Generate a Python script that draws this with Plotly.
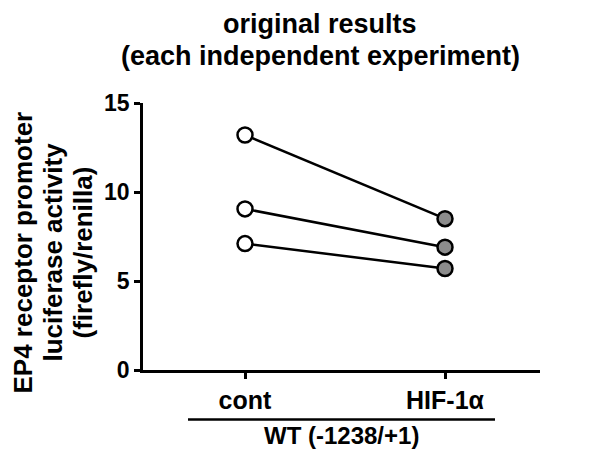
import plotly.graph_objects as go

categories = ["cont", "HIF-1α"]
exp1 = [13.2, 8.5]
exp2 = [9.05, 6.9]
exp3 = [7.1, 5.7]
series = [exp1, exp2, exp3]
y_ticks = [0, 5, 10, 15]
group_label = "WT (-1238/+1)"
title_lines = ["original results", "(each independent experiment)"]
y_title_lines = ["EP4 receptor promoter", "luciferase activity", "(firefly/renilla)"]

FONT = "Liberation Sans, Arial, sans-serif"
xpos = list(range(len(categories)))

fig = go.Figure()
for s in series:
    fig.add_trace(go.Scatter(
        x=xpos, y=s, mode="lines+markers",
        line=dict(color="black", width=2.5),
        marker=dict(size=15, color=["white", "#8c8c8c"],
                    line=dict(color="black", width=2.5)),
        showlegend=False, cliponaxis=False,
    ))

# page body has an 8px margin, so the figure is 8px smaller than the window
fig.update_layout(
    width=593, height=443,
    margin=dict(l=135, r=61, t=95, b=81),
    paper_bgcolor="white", plot_bgcolor="white",
    font=dict(family=FONT, color="black", size=22, weight="bold"),
    xaxis=dict(range=[-0.51, 1.475], tickvals=xpos, ticktext=categories,
               showline=True, linewidth=2.5, linecolor="black",
               ticks="outside", ticklen=6, tickwidth=2.5, tickcolor="black",
               showgrid=False, zeroline=False,
               tickfont=dict(size=25, family=FONT, weight="bold")),
    yaxis=dict(range=[0, 15], tickvals=y_ticks,
               showline=True, linewidth=2.5, linecolor="black",
               ticks="outside", ticklen=6, tickwidth=2.5, tickcolor="black",
               showgrid=False, zeroline=False,
               tickfont=dict(size=23, family=FONT, weight="bold")),
)

# y-axis title (rotated, three lines)
for i, line in enumerate(y_title_lines):
    fig.add_annotation(text=line, xref="paper", yref="paper",
                       x=0, y=0.44, xshift=-120 + 30 * i,
                       xanchor="center", yanchor="middle",
                       textangle=-90, showarrow=False,
                       font=dict(size=26, family=FONT, weight="bold"))

# chart title
for i, line in enumerate(title_lines):
    fig.add_annotation(text=line, xref="paper", yref="paper",
                       x=0.446, y=1.295 - 0.12 * i,
                       xanchor="center", yanchor="middle",
                       showarrow=False,
                       font=dict(size=27, family=FONT, weight="bold"))

# group bracket and label
fig.add_shape(type="line", xref="x", yref="paper",
              x0=-0.285, x1=1.25, y0=-0.185, y1=-0.185,
              line=dict(color="black", width=2.5))
fig.add_annotation(text=group_label, xref="paper", yref="paper",
                   x=0.499, y=-0.247, xanchor="center", yanchor="middle",
                   showarrow=False, borderpad=0,
                   font=dict(size=24, family=FONT, weight="bold"))

fig.write_html("out.html")
